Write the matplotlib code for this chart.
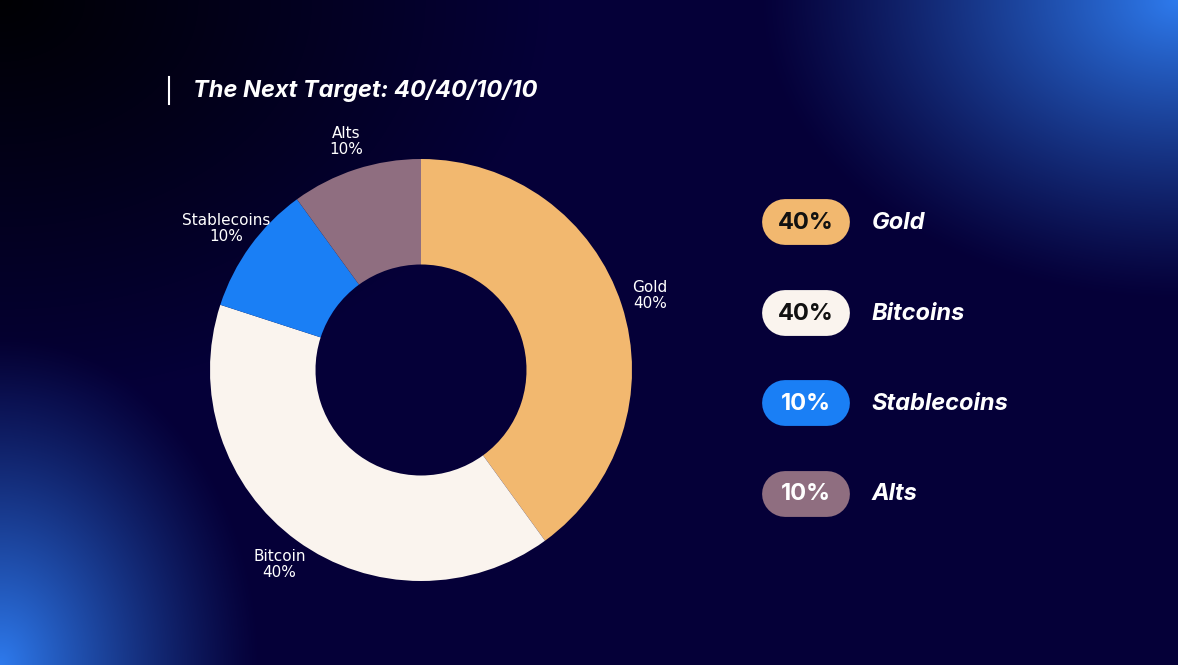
import numpy as np
import matplotlib.pyplot as plt

labels = ["Gold", "Bitcoin", "Stablecoins", "Alts"]
legend_names = ["Gold", "Bitcoins", "Stablecoins", "Alts"]
shares = [40, 40, 10, 10]
colors = ["#F2B86F", "#FAF4EE", "#1A7FF5", "#8F6E80"]
pill_text = ["#111111", "#111111", "#FFFFFF", "#FFFFFF"]

W, H = 1178, 665
fig = plt.figure(figsize=(W / 100, H / 100), dpi=100)

# background gradient
bg = fig.add_axes([0, 0, 1, 1])
yy, xx = np.mgrid[0:H, 0:W]
base = np.array([0.02, 0.0, 0.22])
img = np.ones((H, W, 3)) * base
dark = np.clip(1 - np.hypot(xx / 550, yy / 400), 0, 1)
img = img * (1 - 0.95 * dark[..., None])
glow1 = np.clip(1 - np.hypot((xx - 1178) / 420, (yy - 0) / 300), 0, 1) ** 1.2
glow2 = np.clip(1 - np.hypot((xx - 0) / 260, (yy - 665) / 330), 0, 1) ** 1.2
blue = np.array([0.18, 0.48, 0.93])
for g in (glow1, glow2):
    img = img * (1 - g[..., None]) + blue * g[..., None]
bg.imshow(img, extent=[0, W, H, 0], aspect="auto")
bg.set_xlim(0, W)
bg.set_ylim(H, 0)
bg.axis("off")

# title
bg.plot([169, 169], [77, 104], color="white", lw=1.5)
bg.text(193, 91, "The Next Target: 40/40/10/10", color="white", fontsize=17,
        fontweight="bold", fontstyle="italic", va="center", family="Inter")

# donut
r = 211
cx, cy = 421, 370
ax = fig.add_axes([(cx - r) / W, 1 - (cy + r) / H, 2 * r / W, 2 * r / H])
wedges, _ = ax.pie(shares, colors=colors, startangle=90, counterclock=False,
                   wedgeprops=dict(width=0.5, linewidth=0))
ax.set_aspect("equal")
ax.set_xlim(-1, 1)
ax.set_ylim(-1, 1)
start = 90
for lab, s in zip(labels, shares):
    mid = np.deg2rad(start - s * 3.6 / 2)
    start -= s * 3.6
    ax.text(1.14 * np.cos(mid), 1.14 * np.sin(mid), f"{lab}\n{s}%", color="white",
            fontsize=11, ha="center", va="center", linespacing=1.1, clip_on=False)

# legend
for i, (name, s) in enumerate(zip(legend_names, shares)):
    y = 222 + i * 90.5
    bg.plot([785, 827], [y, y], color=colors[i], lw=33, solid_capstyle="round")
    bg.text(806, y + 1, f"{s}%", color=pill_text[i], fontsize=17, fontweight="bold",
            ha="center", va="center", family="Inter")
    bg.text(872, y + 1, name, color="white", fontsize=17, fontweight="bold",
            fontstyle="italic", va="center", family="Inter")

fig.savefig("out.png", dpi=100)
